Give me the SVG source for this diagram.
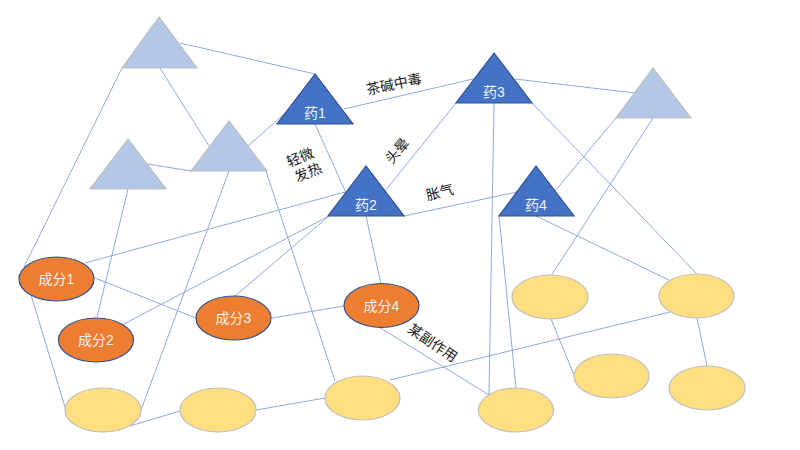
<svg xmlns="http://www.w3.org/2000/svg" width="800" height="450" viewBox="0 0 800 450">
<style>
.c{stroke:#8eaadb;stroke-width:1;fill:none}
.lt{fill:#b4c7e7;stroke:#bfbfbf;stroke-width:1.2}
.dk{fill:#4472c4;stroke:#2f528f;stroke-width:1.2}
.or{fill:#ed7d31;stroke:#2f528f;stroke-width:1.2}
.ye{fill:#ffdf80;stroke:#bfbfbf;stroke-width:1.2}
.nt{font-family:"Liberation Sans","Noto Sans CJK SC",sans-serif;font-size:14px;fill:#f2f2f2;text-anchor:middle}
.lb{font-family:"Noto Sans CJK SC",sans-serif;font-size:14px;fill:#1a1a1a;text-anchor:middle}
</style>
<rect width="800" height="450" fill="#ffffff"/>
<g id="connectors">
<line class="c" x1="180" y1="43" x2="315" y2="74"/>
<line class="c" x1="122" y1="68" x2="24" y2="267"/>
<line class="c" x1="160" y1="68" x2="209" y2="146"/>
<line class="c" x1="148" y1="164" x2="191" y2="171"/>
<line class="c" x1="248" y1="146" x2="292" y2="107"/>
<line class="c" x1="128" y1="189" x2="97" y2="317"/>
<line class="c" x1="229" y1="171" x2="141" y2="410"/>
<line class="c" x1="266" y1="171" x2="335" y2="381"/>
<line class="c" x1="315" y1="124" x2="346" y2="193"/>
<line class="c" x1="344" y1="109" x2="473" y2="79"/>
<line class="c" x1="515" y1="79" x2="635" y2="93"/>
<line class="c" x1="456" y1="103" x2="385" y2="191"/>
<line class="c" x1="494" y1="103" x2="489" y2="395"/>
<line class="c" x1="532" y1="103" x2="697" y2="274"/>
<line class="c" x1="616" y1="118" x2="555" y2="191"/>
<line class="c" x1="653" y1="118" x2="551" y2="276"/>
<line class="c" x1="345" y1="192" x2="85" y2="263"/>
<line class="c" x1="404" y1="216" x2="517" y2="192"/>
<line class="c" x1="329" y1="216" x2="124" y2="324"/>
<line class="c" x1="329" y1="216" x2="235" y2="296"/>
<line class="c" x1="366" y1="216" x2="381" y2="284"/>
<line class="c" x1="499" y1="216" x2="516" y2="388"/>
<line class="c" x1="536" y1="216" x2="669" y2="280"/>
<line class="c" x1="95" y1="278" x2="196" y2="318"/>
<line class="c" x1="31" y1="295" x2="65" y2="407"/>
<line class="c" x1="272" y1="318" x2="344" y2="306"/>
<line class="c" x1="130" y1="426" x2="180" y2="411"/>
<line class="c" x1="256" y1="410" x2="325" y2="398"/>
<line class="c" x1="390" y1="380" x2="670" y2="312"/>
<line class="c" x1="379" y1="327" x2="489" y2="395"/>
<line class="c" x1="551" y1="319" x2="574" y2="375"/>
<line class="c" x1="697" y1="318" x2="707" y2="366"/>
</g>
<g id="ta"><polygon class="lt" points="159,17 122,68 197,68"/></g>
<g id="tb"><polygon class="lt" points="128,139 90,189 166,189"/></g>
<g id="tc"><polygon class="lt" points="229,121 191,171 267,171"/></g>
<g id="td"><polygon class="lt" points="653,68 616,118 691,118"/></g>
<g id="yao1"><polygon class="dk" points="315,74 277,124 353,124"/><text class="nt" x="315" y="118">药1</text></g>
<g id="yao2"><polygon class="dk" points="366,166 328,216 404,216"/><text class="nt" x="366" y="210">药2</text></g>
<g id="yao3"><polygon class="dk" points="494,53 456,103 532,103"/><text class="nt" x="494" y="97">药3</text></g>
<g id="yao4"><polygon class="dk" points="536,166 499,216 574,216"/><text class="nt" x="536" y="210">药4</text></g>
<g id="cf1"><ellipse class="or" cx="56.5" cy="279" rx="37.5" ry="22"/><text class="nt" x="56.5" y="284">成分1</text></g>
<g id="cf2"><ellipse class="or" cx="96" cy="340" rx="37.5" ry="22"/><text class="nt" x="96" y="345">成分2</text></g>
<g id="cf3"><ellipse class="or" cx="233.5" cy="318" rx="37.5" ry="22"/><text class="nt" x="233.5" y="323">成分3</text></g>
<g id="cf4"><ellipse class="or" cx="381.5" cy="305.5" rx="37.5" ry="22"/><text class="nt" x="381.5" y="310.5">成分4</text></g>
<g id="y1"><ellipse class="ye" cx="103" cy="410" rx="38" ry="22"/></g>
<g id="y2"><ellipse class="ye" cx="218" cy="410" rx="38" ry="22"/></g>
<g id="y3"><ellipse class="ye" cx="362.5" cy="398" rx="37.5" ry="22"/></g>
<g id="y4"><ellipse class="ye" cx="516" cy="410" rx="37.5" ry="22"/></g>
<g id="y5"><ellipse class="ye" cx="550" cy="297" rx="38" ry="22"/></g>
<g id="y6"><ellipse class="ye" cx="696.5" cy="296" rx="37.5" ry="22"/></g>
<g id="y7"><ellipse class="ye" cx="611.5" cy="376" rx="37.5" ry="22"/></g>
<g id="y8"><ellipse class="ye" cx="707" cy="388" rx="38" ry="22"/></g>
<g id="labels">
<text class="lb" transform="translate(395,89) rotate(-12)">茶碱中毒</text>
<text class="lb" transform="translate(401,154) rotate(-50)">头晕</text>
<text class="lb" transform="translate(302,162) rotate(-22)">轻微</text>
<text class="lb" transform="translate(310,177) rotate(-22)">发热</text>
<text class="lb" transform="translate(441,197) rotate(-14)">胀气</text>
<text class="lb" transform="translate(430,347) rotate(34)">某副作用</text>
</g>
</svg>
